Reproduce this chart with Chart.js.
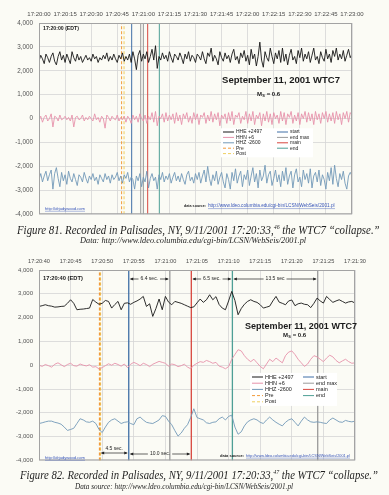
<!DOCTYPE html>
<html>
<head>
<meta charset="utf-8">
<script src="https://cdn.jsdelivr.net/npm/chart.js@4.4.0/dist/chart.umd.min.js"></script>
<style>
body { margin:0; background:#fbfbf5; width:389px; height:495px; overflow:hidden; position:relative; }
canvas { position:absolute; left:0; }
#c1 { top:0; }
#c2 { top:245px; }
.cap { position:absolute; font-family:"Liberation Serif","DejaVu Serif",serif; font-style:italic; color:#1e1e1e; white-space:nowrap; line-height:1; transform-origin:left center; }
.cap sup { font-size:0.55em; vertical-align:0.7em; line-height:0; }
</style>
</head>
<body>
<canvas id="c1" width="389" height="224"></canvas>
<canvas id="c2" width="389" height="225"></canvas>
<div class="cap" data-w="363" style="left:17px;top:223px;font-size:13px">Figure 81. Recorded in Palisades, NY, 9/11/2001 17:20:33,<sup>46</sup> the WTC7 “collapse.”</div>
<div class="cap" data-w="226" style="left:80px;top:236px;font-size:9px">Data: http://www.ldeo.columbia.edu/cgi-bin/LCSN/WebSeis/2001.pl</div>
<div class="cap" data-w="358" style="left:20px;top:468px;font-size:13px">Figure 82. Recorded in Palisades, NY, 9/11/2001 17:20:33,<sup>47</sup> the WTC7 “collapse.”</div>
<div class="cap" data-w="218" style="left:75px;top:482px;font-size:9px">Data source: http://www.ldeo.columbia.edu/cgi-bin/LCSN/WebSeis/2001.pl</div>
<script>
// figure 81: 17:20:00 - 17:23:00, one value per second
const xTicks1 = ['17:20:00','17:20:15','17:20:30','17:20:45','17:21:00','17:21:15','17:21:30','17:21:45','17:22:00','17:22:15','17:22:30','17:22:45','17:23:00'];
const step1 = 1;
const hhe1 = [
  2400,2650,2500,2300,2700,2550,2350,2600,2750,2400,
  2250,2600,2800,2450,2650,2350,2700,2500,2300,2800,
  2550,2400,2700,2450,2600,2350,2500,2650,2450,2550,
  2400,2700,2500,2600,2350,2550,2450,2650,2500,2750,
  2400,2600,2450,2700,2500,2350,2650,2500,2750,2400,
  2600,2450,2700,2350,2800,2500,2050,2650,2850,2400,
  2700,2500,2800,2350,2600,2900,2450,3050,2100,2600,
  2450,2750,2500,2650,2400,2800,2550,2350,2700,2600,
  2450,2750,2550,2300,2700,2500,2800,2400,2650,2550,
  2350,2700,2600,2450,2800,2500,2300,2750,2600,2950,
  2400,2650,2500,2250,2800,2550,2400,2750,2500,2650,
  2350,2700,2900,2450,2600,2300,2750,2550,2850,2400,
  2650,2250,2900,2500,2700,2200,2600,3200,2450,2150,
  2800,2550,2400,2950,2600,2300,2750,2500,2850,2350,
  2950,2400,2700,2250,2650,2900,2450,2600,2300,2850,
  2550,2950,2400,2700,2500,2800,2350,2650,2950,2450,
  2600,2300,2800,2550,2400,2900,2500,2700,2350,2850,
  2600,2950,2450,2700,2500,2850,2400,2650,2900,2550,
  2700];
const hhn1 = [
  -50,100,-150,50,150,-100,0,200,-350,100,
  50,-100,150,-50,0,100,-50,50,-100,150,
  -350,50,100,-50,0,150,-100,50,-50,100,
  0,-100,200,-50,50,-150,100,0,-400,150,
  50,-100,100,0,-50,150,-100,50,-50,100,
  -150,100,0,-200,150,-50,100,-150,200,0,
  -100,150,-200,100,-50,250,-150,300,-300,100,
  0,200,-150,250,-100,150,-50,200,-200,250,
  -100,150,-250,200,0,250,-150,100,-200,250,
  -50,200,-250,150,50,250,-200,150,-100,300,
  -150,200,-50,250,-300,150,0,200,-200,250,
  -100,300,-250,150,50,250,-200,100,-50,300,
  -200,200,-100,300,-250,150,0,250,-300,200,
  -100,300,-150,200,-250,250,0,150,-200,300,
  -100,250,-250,200,50,300,-200,150,-100,250,
  -250,200,0,300,-150,250,-100,200,-250,300,
  -50,200,-200,250,0,300,-150,200,-100,250,
  -200,300,-50,200,-250,250,0,300,-150,250,
  150];
const hhz1 = [
  -2550,-2300,-2650,-2400,-2200,-2600,-2350,-2150,-2950,-2300,
  -2050,-2500,-2850,-2250,-2600,-2350,-2750,-2200,-2500,-2650,
  -2300,-2550,-2800,-2350,-2450,-2650,-2250,-2500,-2700,-2400,
  -2550,-2300,-2600,-2450,-2750,-2350,-2500,-2650,-2300,-2550,
  -2400,-2700,-2350,-2550,-2450,-2250,-2600,-2400,-2700,-2350,
  -2500,-2250,-2650,-2450,-2550,-2950,-2400,-2600,-2300,-2850,
  -2450,-2650,-2200,-2900,-2500,-2300,-2600,-2450,-2950,-2350,
  -2550,-2250,-2650,-2400,-2550,-2300,-2700,-2450,-2250,-2600,
  -2400,-2650,-2300,-2550,-2750,-2350,-2200,-2600,-2450,-2700,
  -2300,-2550,-2250,-2700,-2400,-2150,-2650,-2000,-2500,-2800,
  -2350,-2600,-2200,-2750,-2450,-2250,-2650,-2900,-2300,-2550,
  -2950,-2250,-2600,-2100,-2700,-2400,-2200,-2850,-2350,-2550,
  -2150,-2800,-2400,-2050,-2650,-2300,-2900,-2150,-2600,-2400,
  -1950,-2700,-2350,-2200,-2800,-2500,-2150,-2650,-2350,-2850,
  -2200,-2600,-2050,-2750,-2400,-2200,-2900,-2350,-2100,-2650,
  -2450,-2850,-2150,-2550,-2300,-2700,-2100,-2900,-2400,-2250,
  -2650,-2150,-2800,-2350,-2550,-2950,-2250,-2600,-2050,-2750,
  -1950,-2500,-2850,-2300,-2550,-2200,-2700,-2950,-2400,-2250,
  -2400];
// marker times (seconds after 17:20:00)
const pre1 = [47.5], post1 = [48.9], start1 = [53.3], endMax1 = [58.5, 60.0], main1 = [62.5], end1 = [69.2];

// figure 82: 17:20:40 - 17:21:30, one value per half second
const xTicks2 = ['17:20:40','17:20:45','17:20:50','17:20:55','17:21:00','17:21:05','17:21:10','17:21:15','17:21:20','17:21:25','17:21:30'];
const step2 = 0.5;
const hhe2 = [
  2470,2500,2540,2500,2480,2440,2450,2470,2480,2600,
  2750,2600,2330,2350,2360,2380,2400,2760,2650,2560,
  2600,2720,2680,2400,2550,2680,2330,2600,2620,2560,
  2640,2700,2780,2890,2470,2580,2050,2380,2780,2330,
  2890,2650,2540,2680,2640,2600,2540,2480,2420,2450,
  2620,2780,2640,2750,2960,2750,2880,2550,2400,2330,
  2700,3100,2720,2120,2380,2560,2680,2750,2680,2640,
  2540,2400,2440,2480,2700,2890,2650,2600,2540,2700,
  2740,2500,2580,2610,2560,2540,2420,2600,2820,2700,
  2610,2890,2760,2640,2700,2750,2680,2610,2660,2680,
  2610];
const hhn2 = [
  0,-50,30,-20,-80,40,100,20,-60,30,
  80,-20,-40,50,0,-30,20,-80,-60,-160,
  -100,-20,60,0,80,30,-40,50,-100,40,
  120,60,-20,80,30,-60,40,100,160,120,
  80,-40,50,20,-60,-20,40,-80,-150,0,
  80,150,120,200,150,80,120,-40,-80,-150,
  -60,250,450,650,600,400,250,150,250,100,
  -50,-150,50,250,150,300,200,100,400,550,
  600,450,250,100,-50,50,250,400,350,250,
  150,300,420,350,200,100,180,250,150,80,
  100];
const hhz2 = [
  -2450,-2420,-2380,-2350,-2350,-2400,-2430,-2480,-2600,-2740,
  -2700,-2650,-2450,-2250,-2300,-2380,-2400,-2350,-2450,-2700,
  -2830,-2600,-2400,-2300,-2250,-2350,-2450,-2400,-2380,-2450,
  -2500,-2250,-2180,-2300,-2400,-2430,-2450,-2380,-2300,-2120,
  -2150,-2350,-2500,-2750,-2980,-2850,-2650,-2500,-2200,-1830,
  -2200,-2250,-2300,-2420,-2450,-2400,-2380,-2250,-2180,-2300,
  -2150,-2100,-2600,-2900,-2800,-2550,-2380,-2300,-2250,-2300,
  -2400,-2450,-2300,-2180,-2300,-2400,-2480,-2550,-2400,-2300,
  -2250,-2400,-2550,-2350,-2180,-2300,-2380,-2400,-2380,-2400,
  -2430,-2450,-2300,-2220,-2300,-2380,-2400,-2320,-2360,-2380,
  -2350];
// marker times (seconds after 17:20:40)
const pre2 = [9.6], post2 = [9.7], start2 = [14.2], endMax2 = [20.7, 44.1], main2 = [24.1], end2 = [30.6];

const yTicks = ['-4,000','-3,000','-2,000','-1,000','0','1,000','2,000','3,000','4,000'];

const sans = '"Liberation Sans", Arial, sans-serif';

function seriesPts(vals, step) {
    return vals.map((v, i) => ({ x: i * step, y: v }));
}

function vlinePts(times) {
    const pts = [];
    times.forEach((t, k) => {
        if (k) pts.push({ x: t, y: null });
        pts.push({ x: t, y: -4000 }, { x: t, y: 4000 });
    });
    return pts;
}

function fitText(ctx, text, x, y, width, weight, align) {
    ctx.font = weight + ' 10px ' + sans;
    const size = 10 * width / ctx.measureText(text).width;
    ctx.font = weight + ' ' + size.toFixed(2) + 'px ' + sans;
    ctx.textAlign = align || 'left';
    ctx.textBaseline = 'middle';
    ctx.fillText(text, x, y);
    return size;
}

function arrow(ctx, x1, x2, y, label, ty) {
    ctx.font = '5px ' + sans;
    const w = ctx.measureText(label).width, mid = (x1 + x2) / 2;
    ctx.strokeStyle = '#222';
    ctx.fillStyle = '#222';
    ctx.lineWidth = 0.7;
    ctx.beginPath();
    if (ty == null) {
        ctx.moveTo(x1 + 2, y); ctx.lineTo(mid - w / 2 - 2, y);
        ctx.moveTo(mid + w / 2 + 2, y); ctx.lineTo(x2 - 2, y);
    } else {
        ctx.moveTo(x1 + 2, y); ctx.lineTo(x2 - 2, y);
    }
    ctx.stroke();
    [[x1 + 1, 1], [x2 - 1, -1]].forEach(([x, d]) => {
        ctx.beginPath();
        ctx.moveTo(x, y);
        ctx.lineTo(x + d * 3.5, y - 1.4);
        ctx.lineTo(x + d * 3.5, y + 1.4);
        ctx.closePath();
        ctx.fill();
    });
    ctx.textAlign = 'center';
    ctx.textBaseline = 'middle';
    ctx.fillText(label, mid, ty == null ? y : ty);
}

function link(ctx, x, y, width, text) {
    ctx.fillStyle = '#3553b8';
    ctx.strokeStyle = '#3553b8';
    const s = fitText(ctx, text, x, y, width, 'normal');
    ctx.lineWidth = 0.4;
    ctx.beginPath();
    ctx.moveTo(x, y + s * 0.55);
    ctx.lineTo(x + width, y + s * 0.55);
    ctx.stroke();
}

function extras(o) {
    return {
        id: 'extras',
        afterDatasetsDraw(chart) {
            const ctx = chart.ctx, a = chart.chartArea, xs = chart.scales.x;
            ctx.save();
            // plot frame
            ctx.strokeStyle = '#a3a3a3';
            ctx.lineWidth = 1;
            ctx.strokeRect(a.left + 0.5, a.top + 0.5, a.right - a.left - 1, a.bottom - a.top - 1);

            ctx.fillStyle = '#1a1a1a';
            fitText(ctx, o.edt, a.left + 4, o.edtY, o.edtW, 'bold');
            fitText(ctx, 'September 11, 2001 WTC7', o.titleX, o.titleY, o.titleW, 'bold', 'center');
            const ms = fitText(ctx, 'M', o.msX, o.msY, 5, 'bold');
            ctx.font = 'bold ' + (ms * 0.65).toFixed(2) + 'px ' + sans;
            ctx.fillText('S', o.msX + 5.2, o.msY + 1.5);
            ctx.font = 'bold ' + ms.toFixed(2) + 'px ' + sans;
            ctx.fillText(' = 0.6', o.msX + 8, o.msY);

            // legend, two columns
            const L = o.legend;
            ctx.fillStyle = '#ffffff';
            ctx.fillRect(L.x1 - 2, L.y0 - L.dy / 2 - 1, L.x2 + L.w2 - L.x1 + 4, L.dy * 5 + 2);
            chart.data.datasets.forEach(ds => {
                const col = ds.col === 1 ? L.x1 : L.x2;
                const y = L.y0 + ds.row * L.dy;
                ctx.strokeStyle = ds.borderColor;
                ctx.lineWidth = 1;
                ctx.setLineDash(ds.borderDash || []);
                ctx.beginPath();
                ctx.moveTo(col, y);
                ctx.lineTo(col + L.line, y);
                ctx.stroke();
                ctx.setLineDash([]);
                ctx.fillStyle = '#222';
                ctx.font = L.font + 'px ' + sans;
                ctx.textAlign = 'left';
                ctx.textBaseline = 'middle';
                ctx.fillText(ds.label, col + L.line + 2, y);
            });

            // data source
            ctx.fillStyle = '#222';
            fitText(ctx, 'data source:', o.srcX, o.srcY, o.srcLabelW, 'bold');
            link(ctx, o.srcX + o.srcLabelW + 2, o.srcY, o.srcLinkW, 'http://www.ldeo.columbia.edu/cgi-bin/LCSN/WebSeis/2001.pl');
            link(ctx, a.left + 6, o.siteY, 40, 'http://drjudywood.com');

            (o.arrows || []).forEach(ar => {
                arrow(ctx, xs.getPixelForValue(ar.from), xs.getPixelForValue(ar.to), ar.y, ar.text, ar.ty);
            });
            ctx.restore();
        }
    };
}

function makeChart(id, o) {
    const trace = (label, vals, color, row) => ({
        label, data: seriesPts(vals, o.step), borderColor: color, borderWidth: o.lw, col: 1, row
    });
    const mark = (label, times, color, col, row, dash, w) => ({
        label, data: vlinePts(times), borderColor: color, borderWidth: w || o.mw, borderDash: dash, col, row
    });
    return new Chart(document.getElementById(id), {
        type: 'line',
        data: {
            datasets: [
                trace('HHE +2497', o.hhe, '#161616', 0),
                trace('HHN +6', o.hhn, '#e792aa', 1),
                trace('HHZ -2600', o.hhz, '#7299b8', 2),
                mark('start', o.start, '#3f6fa6', 2, 0),
                mark('end max', o.endMax, '#9a9a9a', 2, 1),
                mark('main', o.main, '#d8473f', 2, 2),
                mark('end', o.end, '#4e9f96', 2, 3),
                mark('Pre', o.pre, '#f29a3a', 1, 3, [3, 2], o.dw),
                mark('Post', o.post, '#efd060', 1, 4, [3, 2], o.dw)
            ]
        },
        options: {
            responsive: false,
            animation: false,
            devicePixelRatio: 1,
            layout: { padding: o.pad },
            plugins: { legend: { display: false }, tooltip: { enabled: false } },
            elements: { point: { radius: 0 }, line: { tension: 0, fill: false } },
            scales: {
                x: {
                    type: 'linear', position: 'top', min: 0, max: o.max,
                    ticks: {
                        stepSize: o.tickStep, autoSkip: false, maxRotation: 0,
                        callback: (v, i) => o.xTicks[i],
                        font: { family: sans, size: o.xFont }, color: '#4a4a4a', padding: o.xPad
                    },
                    grid: { color: '#d6d6d6', drawTicks: false, lineWidth: 0.8 },
                    border: { display: false },
                    afterFit: s => { s.height = o.xH; }
                },
                y: {
                    min: -4000, max: 4000,
                    ticks: {
                        stepSize: 1000,
                        callback: (v, i) => yTicks[i],
                        font: { family: sans, size: o.yFont }, color: '#555', padding: 6
                    },
                    grid: { color: '#d6d6d6', drawTicks: false, lineWidth: 0.8 },
                    border: { display: false },
                    afterFit: s => { s.width = 39; }
                }
            }
        },
        plugins: [extras(o)]
    });
}

makeChart('c1', {
    hhe: hhe1, hhn: hhn1, hhz: hhz1, step: step1, max: 180, tickStep: 15, xTicks: xTicks1,
    pre: pre1, post: post1, start: start1, endMax: endMax1, main: main1, end: end1,
    lw: 0.9, mw: 1, dw: 1, xFont: 6, yFont: 6.3, xPad: 5, xH: 23,
    pad: { left: 0, right: 37, top: 0, bottom: 9 },
    edt: '17:20:00 (EDT)', edtY: 29, edtW: 36,
    titleX: 281, titleY: 80, titleW: 118, msX: 257, msY: 94,
    legend: { x1: 223, x2: 277, y0: 132, dy: 5.4, line: 11, w2: 34, font: 5 },
    srcX: 184, srcY: 206, srcLabelW: 22, srcLinkW: 127, siteY: 209
});

makeChart('c2', {
    hhe: hhe2, hhn: hhn2, hhz: hhz2, step: step2, max: 50, tickStep: 5, xTicks: xTicks2,
    pre: pre2, post: post2, start: start2, endMax: endMax2, main: main2, end: end2,
    lw: 0.9, mw: 1.3, dw: 1.6, xFont: 5.6, yFont: 6, xPad: 5, xH: 25,
    pad: { left: 0, right: 34, top: 0, bottom: 8 },
    edt: '17:20:40 (EDT)', edtY: 33, edtW: 40,
    titleX: 301, titleY: 82, titleW: 112, msX: 283, msY: 90,
    legend: { x1: 252, x2: 303, y0: 132, dy: 6.2, line: 11, w2: 32, font: 5.5 },
    srcX: 220, srcY: 211, srcLabelW: 24, srcLinkW: 104, siteY: 213,
    arrows: [
        { from: 14.2, to: 20.7, y: 34, text: '6.4 sec.' },
        { from: 24.1, to: 30.6, y: 34, text: '6.5 sec.' },
        { from: 30.6, to: 44.1, y: 34, text: '13.5 sec' },
        { from: 9.6, to: 14.2, y: 208, text: '4.5 sec.', ty: 204 },
        { from: 14.2, to: 24.1, y: 209, text: '10.0 sec.' }
    ]
});

// fit captions to the scanned line widths
document.querySelectorAll('.cap').forEach(el => {
    const s = Number(el.dataset.w) / el.offsetWidth;
    el.style.transform = 'scaleX(' + s.toFixed(3) + ')';
});
</script>
</body>
</html>
